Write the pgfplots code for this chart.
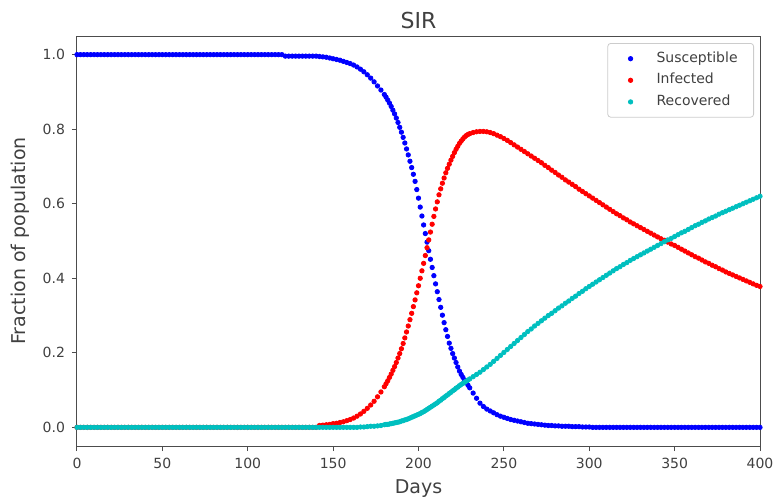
\documentclass[border=0pt]{standalone}
\usepackage{fontspec}
\setmainfont{DejaVu Sans}
\usepackage{pgfplots}
\pgfplotsset{compat=1.18}
\usepackage{pgfplotstable}

\definecolor{mplc}{rgb}{0,0.75,0.75}
\definecolor{txt}{gray}{0.25}

% day, susceptible, infected, recovered (read off the reference;
% every 2 days, daily where the curves are steep)
\pgfplotstableread{
t S I R
0 1.000 0 0
2 1.000 0 0
4 1.000 0 0
6 1.000 0 0
8 1.000 0 0
10 1.000 0 0
12 1.000 0 0
14 1.000 0 0
16 1.000 0 0
18 1.000 0 0
20 1.000 0 0
22 1.000 0 0
24 1.000 0 0
26 1.000 0 0
28 1.000 0 0
30 1.000 0 0
32 1.000 0 0
34 1.000 0 0
36 1.000 0 0
38 1.000 0 0
40 1.000 0 0
42 1.000 0 0
44 1.000 0 0
46 1.000 0 0
48 1.000 0 0
50 1.000 0 0
52 1.000 0 0
54 1.000 0 0
56 1.000 0 0
58 1.000 0 0
60 1.000 0 0
62 1.000 0 0
64 1.000 0 0
66 1.000 0 0
68 1.000 0 0
70 1.000 0 0
72 1.000 0 0
74 1.000 0 0
76 1.000 0 0
78 1.000 0 0
80 1.000 0 0
82 1.000 0 0
84 1.000 0 0
86 1.000 0 0
88 1.000 0 0
90 1.000 0 0
92 1.000 0 0
94 1.000 0 0
96 1.000 0 0
98 1.000 0 0
100 1.000 0 0
102 1.000 0 0
104 1.000 0 0
106 1.000 0 0
108 1.000 0 0
110 1.000 0 0
112 1.000 0 0
114 1.000 0 0
116 1.000 0 0
118 1.000 0 0
120 1.000 0 0
122 0.996 0 0
124 0.996 0 0
126 0.996 0 0
128 0.996 0 0
130 0.996 0 0
132 0.996 0 0
134 0.996 0 0
136 0.996 0 0
138 0.996 0 0
140 0.996 0 0
142 0.995 0.005 0
144 0.994 0.006 0
146 0.993 0.007 0
148 0.991 0.008 0
150 0.989 0.010 0
152 0.987 0.011 0
154 0.985 0.013 0
156 0.982 0.015 0
158 0.979 0.018 0
160 0.976 0.021 0
162 0.972 0.025 0
164 0.967 0.030 0
166 0.961 0.036 0.001
168 0.954 0.043 0.001
170 0.946 0.051 0.002
172 0.937 0.060 0.003
174 0.927 0.070 0.003
176 0.916 0.082 0.004
178 0.905 0.095 0.005
180 0.893 0.109 0.007
181 0.886 0.117 0.008
182 0.878 0.125 0.008
183 0.870 0.134 0.009
184 0.861 0.143 0.010
185 0.851 0.153 0.011
186 0.841 0.163 0.012
187 0.830 0.174 0.013
188 0.818 0.186 0.014
189 0.805 0.198 0.015
190 0.792 0.211 0.017
191 0.778 0.225 0.018
192 0.763 0.240 0.020
193 0.747 0.256 0.021
194 0.731 0.272 0.023
195 0.714 0.289 0.025
196 0.697 0.306 0.027
197 0.679 0.324 0.029
198 0.660 0.342 0.031
199 0.638 0.361 0.033
200 0.615 0.380 0.035
201 0.591 0.400 0.037
202 0.567 0.420 0.040
203 0.543 0.440 0.042
204 0.520 0.461 0.045
205 0.497 0.482 0.048
206 0.474 0.503 0.051
207 0.451 0.524 0.054
208 0.429 0.545 0.057
209 0.407 0.566 0.060
210 0.385 0.586 0.063
211 0.364 0.605 0.066
212 0.343 0.624 0.070
213 0.322 0.640 0.073
214 0.301 0.655 0.077
215 0.281 0.669 0.080
216 0.262 0.683 0.084
217 0.244 0.695 0.087
218 0.226 0.706 0.091
219 0.212 0.717 0.094
220 0.198 0.727 0.098
221 0.186 0.737 0.101
222 0.174 0.746 0.105
223 0.162 0.754 0.108
224 0.151 0.762 0.112
225 0.142 0.768 0.115
226 0.134 0.774 0.118
227 0.127 0.779 0.121
228 0.120 0.783 0.124
229 0.113 0.786 0.127
230 0.106 0.788 0.130
232 0.092 0.791 0.136
234 0.078 0.793 0.142
236 0.065 0.794 0.148
238 0.056 0.794 0.155
240 0.049 0.793 0.162
242 0.044 0.791 0.169
244 0.039 0.788 0.177
246 0.034 0.784 0.185
248 0.030 0.780 0.193
250 0.027 0.775 0.201
252 0.024 0.770 0.209
254 0.021 0.764 0.217
256 0.019 0.758 0.225
258 0.017 0.752 0.233
260 0.015 0.746 0.241
262 0.013 0.740 0.249
264 0.011 0.734 0.257
266 0.010 0.728 0.264
268 0.009 0.722 0.272
270 0.008 0.716 0.279
272 0.007 0.710 0.286
274 0.006 0.703 0.293
276 0.005 0.697 0.300
278 0.005 0.690 0.306
280 0.004 0.684 0.313
282 0.004 0.677 0.320
284 0.003 0.671 0.326
286 0.003 0.664 0.333
288 0.003 0.658 0.339
290 0.002 0.652 0.346
292 0.002 0.646 0.352
294 0.002 0.639 0.359
296 0.001 0.633 0.365
298 0.001 0.627 0.372
300 0.001 0.621 0.378
302 0 0.615 0.384
304 0 0.609 0.390
306 0 0.603 0.396
308 0 0.597 0.402
310 0 0.591 0.408
312 0 0.585 0.414
314 0 0.579 0.420
316 0 0.573 0.426
318 0 0.568 0.431
320 0 0.562 0.437
322 0 0.557 0.442
324 0 0.551 0.448
326 0 0.546 0.453
328 0 0.541 0.458
330 0 0.536 0.463
332 0 0.531 0.468
334 0 0.526 0.473
336 0 0.521 0.478
338 0 0.516 0.483
340 0 0.511 0.488
342 0 0.506 0.493
344 0 0.502 0.498
346 0 0.497 0.503
348 0 0.492 0.507
350 0 0.488 0.512
352 0 0.483 0.517
354 0 0.478 0.522
356 0 0.473 0.526
358 0 0.468 0.531
360 0 0.463 0.536
362 0 0.458 0.541
364 0 0.454 0.545
366 0 0.449 0.550
368 0 0.444 0.554
370 0 0.440 0.559
372 0 0.435 0.563
374 0 0.431 0.567
376 0 0.426 0.572
378 0 0.422 0.576
380 0 0.417 0.580
382 0 0.413 0.584
384 0 0.409 0.588
386 0 0.405 0.592
388 0 0.401 0.596
390 0 0.397 0.600
392 0 0.393 0.604
394 0 0.389 0.608
396 0 0.385 0.612
398 0 0.381 0.616
400 0 0.378 0.620
}\sir

\begin{document}
\begin{tikzpicture}
\begin{axis}[
   scale only axis,
   width=341.5pt, height=205pt,
   xmin=0, xmax=400,
   ymin=-0.05, ymax=1.05,
   xtick={0,50,...,400},
   ytick={0,0.2,0.4,0.6,0.8,1.0},
   yticklabel style={/pgf/number format/.cd,fixed,fixed zerofill,precision=1},
   /pgf/number format/assume math mode=true,
   tick label style={font=\fontsize{7}{8}\selectfont, text=txt},
   tick align=outside, tick pos=left,
   major tick length=2.5pt,
   tick style={black!70, line width=0.5pt},
   axis line style={black!70, line width=0.5pt},
   every axis title shift=0pt,
   title={SIR},
   title style={font=\fontsize{11}{13}\selectfont, text=txt,
                at={(axis description cs:0.5,1)}, anchor=base, yshift=4pt, inner sep=0pt},
   xlabel={Days},
   ylabel={Fraction of population},
   xlabel style={font=\fontsize{9.5}{11}\selectfont, text=txt,
                 at={(axis description cs:0.5,0)}, anchor=base, yshift=-23.5pt, inner sep=0pt},
   ylabel style={font=\fontsize{9.5}{11}\selectfont, text=txt,
                 at={(axis description cs:0,0.5)}, anchor=center, yshift=28.5pt, inner sep=0pt},
   legend style={at={(1,1)}, anchor=north east, xshift=-3pt, yshift=-3.5pt,
                 draw=black!20, rounded corners=1.5pt,
                 inner xsep=6pt, inner ysep=2.25pt, row sep=0pt,
                 nodes={inner ysep=2pt, text height=5.2pt, text depth=1.6pt},
                 font=\fontsize{7}{8}\selectfont, text=txt},
   legend cell align=left,
   legend image code/.code={\draw[mark repeat=2,mark phase=2]
      plot coordinates {(0pt,0pt)(5.2pt,0pt)(10.4pt,0pt)};
      \path (0pt,0pt) (16pt,0pt);},
]
\addplot[blue, only marks, mark=*, mark size=1.1pt]
  table[x=t, y=S] {\sir};
\addplot[red, only marks, mark=*, mark size=1.1pt]
  table[x=t, y=I] {\sir};
\addplot[mplc, only marks, mark=*, mark size=1.1pt]
  table[x=t, y=R] {\sir};
\legend{Susceptible, Infected, Recovered}
\end{axis}
\pgfresetboundingbox
\path[use as bounding box] ([shift={(-38.5pt,-26.5pt)}]current axis.south west)
  rectangle ([shift={(349pt,223pt)}]current axis.south west);
\end{tikzpicture}
\end{document}
